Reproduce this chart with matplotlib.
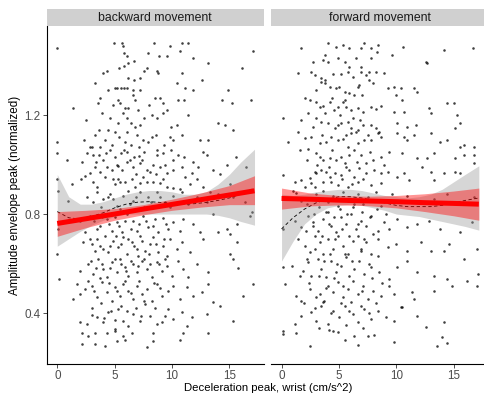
import numpy as np
import matplotlib
matplotlib.use("Agg")
import matplotlib.pyplot as plt

plt.rcParams['font.family'] = ['Liberation Sans', 'DejaVu Sans']

panels = ["backward movement", "forward movement"]

# (deceleration peak, amplitude envelope peak)
back_points = [
    (0.0, 1.47), (4.97, 1.49), (5.61, 1.49), (5.75, 1.48), (8.43, 1.49), (9.82, 1.48), (10.84, 1.49),
    (11.36, 1.49), (17.09, 1.46), (5.81, 1.45), (6.04, 1.44), (7.93, 1.45), (8.89, 1.44), (9.53, 1.44),
    (10.69, 1.46), (11.86, 1.43), (13.16, 1.41), (5.37, 1.39), (5.84, 1.40), (6.19, 1.41), (6.71, 1.42),
    (7.55, 1.38), (7.79, 1.39), (8.66, 1.38), (8.80, 1.37), (4.36, 1.38), (3.95, 1.37), (10.84, 1.37),
    (16.07, 1.39), (12.58, 1.34), (6.19, 1.35), (6.71, 1.34), (7.21, 1.35), (10.46, 1.33), (11.13, 1.31),
    (11.86, 1.30), (3.28, 1.33), (4.44, 1.30), (5.03, 1.31), (5.23, 1.31), (5.52, 1.31), (5.81, 1.31),
    (6.04, 1.31), (6.57, 1.30), (7.21, 1.30), (14.91, 1.30), (6.62, 1.28), (6.77, 1.26), (8.51, 1.27),
    (8.95, 1.27), (9.18, 1.25), (3.72, 1.27), (3.57, 1.25), (5.26, 1.26), (5.46, 1.25), (5.90, 1.23),
    (6.13, 1.23), (10.49, 1.26), (11.07, 1.26), (14.33, 1.26), (15.20, 1.25), (16.85, 1.26), (1.39, 1.23),
    (2.50, 1.18), (5.32, 1.17), (6.04, 1.19), (8.22, 1.20), (8.66, 1.19), (9.24, 1.21), (6.77, 1.15),
    (7.21, 1.16), (3.66, 1.14), (4.44, 1.14), (5.03, 1.13), (9.88, 1.15), (10.40, 1.16), (11.42, 1.20),
    (14.04, 1.17), (14.62, 1.16), (15.34, 1.14), (0.0, 1.09), (0.0, 1.045), (2.85, 1.07), (2.99, 1.07),
    (3.72, 1.07), (5.90, 1.09), (6.42, 1.08), (6.92, 1.12), (7.50, 1.10), (8.22, 1.11), (10.11, 1.10),
    (10.84, 1.12), (12.44, 1.10), (13.16, 1.10), (0.81, 1.02), (2.61, 1.045), (3.14, 1.04), (3.66, 1.04),
    (4.24, 1.045), (5.03, 1.03), (5.55, 1.045), (6.04, 1.05), (6.68, 1.03), (7.15, 1.035), (7.58, 1.05),
    (8.66, 1.04), (9.24, 1.045), (10.05, 1.02), (10.55, 1.04), (11.07, 1.03), (12.73, 1.05), (13.02, 1.04),
    (15.55, 1.03), (2.03, 0.94), (2.41, 0.955), (2.85, 0.965), (3.28, 0.99), (3.72, 0.97), (4.30, 0.99),
    (4.74, 0.98), (5.32, 0.995), (5.61, 0.98), (6.04, 1.01), (6.62, 0.99), (7.21, 1.005), (7.79, 0.98),
    (8.31, 1.0), (8.95, 0.99), (9.53, 0.965), (10.11, 0.98), (10.84, 0.99), (11.13, 0.95), (11.71, 0.965),
    (12.15, 0.94), (13.6, 0.98), (14.18, 0.96), (14.76, 1.0), (16.5, 0.99), (0.0, 0.94), (1.25, 0.92),
    (4.88, 0.94), (5.03, 0.92), (5.32, 0.94), (5.46, 0.93), (5.9, 0.93), (6.48, 0.94), (7.21, 0.925),
    (7.79, 0.93), (8.37, 0.93), (8.95, 0.925), (9.53, 0.91), (10.11, 0.905), (10.69, 0.90), (13.31, 0.89),
    (3.9, 1.21), (4.6, 1.19), (4.9, 1.24), (5.7, 1.21), (6.4, 1.17), (7.0, 1.22), (7.6, 1.19), (8.0, 1.24),
    (9.6, 1.22), (4.2, 1.10), (4.8, 1.08), (5.4, 1.11), (6.1, 1.13), (7.1, 1.07), (7.9, 1.09), (8.6, 1.12),
    (9.3, 1.08), (9.8, 1.11), (3.3, 1.12), (2.3, 1.10), (3.4, 1.01), (4.0, 1.02), (4.6, 1.06), (5.2, 1.00),
    (5.8, 1.06), (6.3, 1.02), (6.9, 0.96), (7.4, 1.02), (8.1, 0.97), (8.7, 1.06), (9.4, 1.00), (9.9, 1.06),
    (11.8, 1.01), (12.3, 0.99), (2.2, 1.01), (3.1, 0.93), (3.5, 0.91), (4.2, 0.95), (6.8, 0.91), (7.5, 0.95),
    (8.6, 0.96), (9.2, 0.94), (11.6, 0.92), (12.7, 0.91), (15.1, 0.92),
    (0.1, 0.894), (0.96, 0.854), (2.56, 0.867), (3.43, 0.888), (4.01, 0.861), (4.59, 0.881), (5.17, 0.834),
    (5.75, 0.874), (6.19, 0.894), (6.62, 0.854), (7.21, 0.888), (7.93, 0.867), (8.66, 0.89), (9.39, 0.847),
    (10.11, 0.874), (10.84, 0.888), (11.42, 0.84), (12.15, 0.867), (13.02, 0.85), (14.04, 0.88),
    (15.34, 0.87), (16.36, 0.847), (16.94, 0.81),
    (0.09, 0.74), (1.97, 0.773), (2.41, 0.726), (2.85, 0.793), (3.43, 0.74), (3.72, 0.753), (4.30, 0.78),
    (4.74, 0.733), (5.17, 0.766), (5.61, 0.726), (6.04, 0.80), (6.62, 0.773), (6.91, 0.733), (7.50, 0.793),
    (7.93, 0.746), (8.37, 0.753), (8.80, 0.726), (9.24, 0.786), (9.68, 0.74), (10.11, 0.766), (10.69, 0.733),
    (10.98, 0.78), (11.86, 0.76), (12.44, 0.726), (13.60, 0.80), (14.76, 0.74), (15.63, 0.76), (16.80, 0.793),
    (0.0, 0.638), (2.27, 0.686), (2.85, 0.699), (3.28, 0.652), (3.72, 0.672), (4.15, 0.712), (4.44, 0.645),
    (4.88, 0.692), (5.32, 0.665), (5.75, 0.706), (6.04, 0.638), (6.48, 0.686), (6.91, 0.659), (7.21, 0.712),
    (7.64, 0.652), (8.08, 0.679), (8.37, 0.706), (8.80, 0.645), (9.24, 0.672), (9.82, 0.699), (10.40, 0.659),
    (10.84, 0.686), (11.56, 0.645), (12.73, 0.699), (14.04, 0.726), (15.05, 0.719), (15.63, 0.686),
    (15.05, 0.638), (9.53, 0.632),
    (0.17, 0.537), (1.97, 0.571), (2.70, 0.598), (3.14, 0.558), (3.57, 0.618), (4.01, 0.578), (4.30, 0.544),
    (4.74, 0.605), (5.17, 0.564), (5.46, 0.618), (5.90, 0.584), (6.19, 0.551), (6.62, 0.598), (6.91, 0.564),
    (7.35, 0.611), (7.79, 0.578), (8.22, 0.544), (8.66, 0.605), (9.10, 0.571), (9.53, 0.591), (9.97, 0.551),
    (10.55, 0.611), (10.98, 0.578), (11.42, 0.544), (12.15, 0.598), (13.16, 0.564), (15.34, 0.618),
    (15.78, 0.58),
    (1.39, 0.457), (1.74, 0.517), (1.97, 0.477), (2.41, 0.497), (2.99, 0.51), (3.43, 0.463), (3.86, 0.524),
    (4.30, 0.484), (4.74, 0.45), (5.03, 0.504), (5.46, 0.47), (5.75, 0.517), (6.19, 0.49), (6.62, 0.457),
    (6.91, 0.51), (7.35, 0.477), (7.79, 0.497), (8.22, 0.45), (8.66, 0.517), (9.10, 0.47), (9.68, 0.49),
    (10.11, 0.51), (10.69, 0.457), (11.27, 0.504), (11.86, 0.47), (12.58, 0.484), (13.16, 0.517),
    (16.22, 0.47), (17.09, 0.517), (13.60, 0.443),
    (1.97, 0.362), (2.56, 0.356), (2.99, 0.392), (3.43, 0.382), (4.01, 0.362), (4.44, 0.403), (5.03, 0.335),
    (5.32, 0.416), (5.75, 0.369), (6.19, 0.349), (6.62, 0.396), (7.21, 0.369), (7.64, 0.436), (8.08, 0.389),
    (8.66, 0.356), (9.10, 0.362), (9.68, 0.416), (10.11, 0.376), (10.84, 0.403), (11.27, 0.349),
    (11.71, 0.382), (13.02, 0.396), (14.18, 0.43), (15.34, 0.369),
    (2.12, 0.32), (2.70, 0.308), (3.28, 0.32), (4.30, 0.32), (5.03, 0.329), (5.75, 0.308), (6.48, 0.319),
    (8.37, 0.32), (10.98, 0.32), (13.16, 0.318), (2.12, 0.275), (3.28, 0.275), (4.15, 0.268), (5.17, 0.288),
    (5.90, 0.292), (7.79, 0.261), (8.37, 0.288), (10.69, 0.292),
    (3.1, 0.85), (3.8, 0.83), (4.4, 0.87), (4.9, 0.86), (5.5, 0.82), (6.3, 0.84), (6.9, 0.87), (7.6, 0.83),
    (8.2, 0.85), (9.0, 0.87), (9.8, 0.83), (3.2, 0.77), (3.9, 0.79), (4.5, 0.76), (5.0, 0.79), (5.4, 0.75),
    (5.9, 0.77), (6.4, 0.74), (7.1, 0.76), (7.7, 0.77), (8.5, 0.78), (9.5, 0.76), (3.0, 0.68), (3.5, 0.70),
    (4.0, 0.66), (4.6, 0.67), (5.1, 0.71), (5.6, 0.68), (6.2, 0.70), (6.7, 0.67), (7.0, 0.63), (7.4, 0.69),
    (8.0, 0.64), (8.6, 0.68), (9.3, 0.70), (2.9, 0.61), (3.4, 0.58), (3.9, 0.60), (4.6, 0.58), (5.0, 0.62),
    (5.6, 0.60), (6.0, 0.57), (6.4, 0.61), (7.0, 0.59), (7.6, 0.62), (8.1, 0.60), (8.9, 0.60), (9.4, 0.62),
    (2.7, 0.53), (3.2, 0.49), (3.7, 0.54), (4.5, 0.52), (5.2, 0.49), (5.9, 0.53), (6.4, 0.48), (7.1, 0.53),
    (7.6, 0.45), (8.4, 0.52), (9.0, 0.50), (3.0, 0.42), (3.8, 0.44), (4.7, 0.41), (5.6, 0.43), (6.1, 0.41),
    (6.9, 0.42), (7.3, 0.39), (8.5, 0.42), (9.4, 0.39), (4.1, 0.38), (5.0, 0.37),
]

fwd_points = [
    (1.73, 1.47), (4.04, 1.493), (4.76, 1.476), (5.34, 1.483), (5.92, 1.47), (6.93, 1.47), (7.22, 1.49),
    (7.79, 1.47), (8.37, 1.483), (8.31, 1.456), (9.67, 1.443), (10.62, 1.476), (14.2, 1.463), (16.68, 1.47),
    (3.75, 1.443), (3.61, 1.423), (4.04, 1.416), (2.74, 1.416), (4.91, 1.429), (5.49, 1.416), (5.92, 1.396),
    (6.5, 1.429), (7.79, 1.429), (6.93, 1.396), (12.56, 1.416), (12.70, 1.409),
    (1.44, 1.369), (2.6, 1.375), (2.89, 1.362), (3.46, 1.349), (3.75, 1.342), (4.48, 1.366), (5.2, 1.366),
    (5.77, 1.375), (6.21, 1.355), (6.93, 1.375), (7.36, 1.362), (7.65, 1.375), (8.23, 1.375), (8.95, 1.369),
    (3.46, 1.335), (3.75, 1.328), (4.19, 1.315), (4.76, 1.308), (5.05, 1.312), (5.49, 1.295), (5.92, 1.288),
    (6.35, 1.281), (6.64, 1.315), (6.78, 1.322), (7.65, 1.342), (7.94, 1.328), (9.81, 1.315), (10.39, 1.308),
    (11.55, 1.308), (11.83, 1.295), (9.24, 1.308), (9.96, 1.281), (10.54, 1.261),
    (2.02, 1.268), (2.45, 1.261), (3.03, 1.254), (3.32, 1.234), (3.61, 1.237), (4.19, 1.254), (4.91, 1.234),
    (5.34, 1.254), (5.63, 1.234), (6.06, 1.221), (6.64, 1.227), (7.07, 1.214), (7.79, 1.234), (8.23, 1.223),
    (8.66, 1.237), (9.81, 1.214), (10.68, 1.214), (14.43, 1.247), (15.01, 1.247), (12.84, 1.227),
    (12.99, 1.207), (15.3, 1.2),
    (0.15, 1.187), (1.73, 1.18), (2.31, 1.207), (3.03, 1.187), (3.46, 1.173), (4.04, 1.167), (4.62, 1.146),
    (5.2, 1.167), (5.77, 1.173), (6.06, 1.146), (6.64, 1.14), (7.07, 1.16), (7.79, 1.16), (8.23, 1.146),
    (8.52, 1.133), (10.1, 1.167), (10.97, 1.153), (11.69, 1.16), (15.15, 1.146), (15.59, 1.167),
    (0.58, 1.093), (1.44, 1.133), (2.02, 1.106), (2.6, 1.113), (3.32, 1.089), (3.9, 1.093), (4.33, 1.113),
    (4.91, 1.099), (5.34, 1.102), (5.63, 1.12), (6.06, 1.126), (6.5, 1.133), (6.64, 1.086), (7.22, 1.099),
    (7.79, 1.099), (8.37, 1.126), (8.66, 1.113), (10.1, 1.126), (10.68, 1.113), (10.97, 1.099), (11.55, 1.12),
    (12.99, 1.126), (13.85, 1.093), (14.43, 1.099), (15.59, 1.072), (15.87, 1.079), (16.74, 1.072),
    (1.59, 1.059), (2.31, 1.062), (3.03, 1.045), (3.32, 1.032), (3.61, 1.019), (4.19, 1.025), (4.76, 1.019),
    (5.2, 1.032), (5.49, 1.005), (5.92, 1.039), (6.35, 1.059), (6.93, 1.039), (7.36, 1.005), (7.94, 1.019),
    (8.66, 1.032), (9.38, 1.052), (10.54, 1.045), (11.83, 1.025), (12.70, 1.025), (13.28, 1.045),
    (15.15, 1.025), (15.87, 1.039), (16.74, 1.039),
    (0.15, 0.958), (1.16, 0.931), (1.73, 0.938), (2.45, 0.944), (3.03, 0.965), (3.46, 0.978), (3.9, 0.971),
    (4.19, 0.951), (4.62, 0.965), (5.2, 0.958), (5.92, 0.978), (6.35, 0.951), (6.78, 0.985), (7.36, 0.965),
    (8.08, 0.978), (8.66, 0.965), (9.24, 0.971), (10.1, 0.951), (10.68, 0.965), (11.11, 0.938),
    (12.27, 0.992), (12.99, 0.971), (13.28, 0.938), (14.14, 0.965), (15.15, 0.971), (15.59, 0.965),
    (16.74, 1.005), (1.3, 0.884), (2.02, 0.911), (2.6, 0.924), (2.89, 0.911), (3.61, 0.931), (4.33, 0.931),
    (4.91, 0.918), (5.77, 0.911), (6.64, 0.931), (7.79, 0.918), (8.66, 0.924),
    (3.0, 1.30), (4.4, 1.27), (5.1, 1.20), (5.5, 1.26), (6.2, 1.19), (7.0, 1.28), (3.8, 1.21), (4.6, 1.22),
    (2.7, 1.15), (3.5, 1.12), (4.9, 1.16), (5.8, 1.07), (6.8, 1.18), (7.5, 1.12), (2.2, 1.02), (3.1, 1.00),
    (4.4, 1.06), (5.6, 0.99), (6.6, 1.01), (7.7, 1.05), (8.9, 1.00), (2.9, 0.97), (4.1, 0.99), (5.3, 0.94),
    (6.1, 0.92), (7.1, 0.94),
    (1.01, 0.894), (1.73, 0.854), (2.6, 0.861), (3.03, 0.881), (3.61, 0.894), (4.04, 0.847), (4.48, 0.874),
    (4.91, 0.834), (5.34, 0.888), (5.77, 0.854), (6.21, 0.827), (6.64, 0.881), (7.07, 0.84), (7.51, 0.867),
    (8.23, 0.888), (8.66, 0.834), (9.67, 0.881), (10.39, 0.847), (10.97, 0.874), (11.83, 0.854),
    (13.28, 0.861), (14.43, 0.881), (15.59, 0.84), (16.74, 0.867),
    (0.15, 0.739), (1.16, 0.773), (1.73, 0.746), (2.31, 0.793), (2.74, 0.766), (3.18, 0.733), (3.61, 0.78),
    (4.04, 0.807), (4.33, 0.753), (4.76, 0.726), (5.2, 0.787), (5.63, 0.76), (6.06, 0.8), (6.5, 0.739),
    (6.93, 0.773), (7.36, 0.753), (7.79, 0.793), (8.37, 0.733), (8.95, 0.766), (10.1, 0.78), (10.97, 0.746),
    (11.83, 0.76), (12.84, 0.773), (13.85, 0.739), (15.59, 0.726), (16.6, 0.766),
    (1.44, 0.699), (2.02, 0.672), (2.45, 0.645), (2.89, 0.712), (3.32, 0.686), (3.61, 0.638), (4.04, 0.699),
    (4.48, 0.659), (4.91, 0.712), (5.34, 0.672), (5.77, 0.638), (6.21, 0.692), (6.64, 0.712), (6.93, 0.659),
    (7.36, 0.686), (7.79, 0.638), (8.37, 0.699), (9.24, 0.665), (9.96, 0.679), (10.97, 0.652), (12.12, 0.686),
    (12.99, 0.652), (14.14, 0.652), (14.57, 0.679), (15.87, 0.618), (17.03, 0.659),
    (0.15, 0.584), (0.29, 0.517), (0.87, 0.591), (1.88, 0.571), (2.31, 0.605), (2.6, 0.551), (3.18, 0.618),
    (3.46, 0.578), (3.9, 0.544), (4.33, 0.611), (4.76, 0.564), (5.2, 0.591), (5.63, 0.625), (5.92, 0.551),
    (6.35, 0.578), (6.78, 0.611), (7.22, 0.557), (7.79, 0.584), (8.52, 0.564), (9.38, 0.537), (10.1, 0.584),
    (10.97, 0.611), (11.83, 0.564), (13.28, 0.551), (14.43, 0.537), (17.17, 0.557),
    (1.3, 0.47), (1.73, 0.45), (2.45, 0.497), (3.03, 0.463), (3.32, 0.477), (3.61, 0.443), (4.04, 0.51),
    (4.48, 0.484), (4.91, 0.524), (5.34, 0.463), (5.77, 0.497), (6.06, 0.443), (6.64, 0.477), (7.07, 0.51),
    (7.51, 0.457), (7.94, 0.49), (8.66, 0.47), (9.38, 0.51), (9.81, 0.477), (10.54, 0.423), (11.4, 0.484),
    (11.55, 0.457), (13.28, 0.49), (14.86, 0.51), (16.16, 0.531), (17.03, 0.51),
    (1.16, 0.356), (1.73, 0.389), (2.6, 0.403), (3.03, 0.369), (3.46, 0.43), (4.04, 0.356), (4.48, 0.409),
    (5.05, 0.382), (5.49, 0.43), (6.21, 0.396), (6.64, 0.362), (7.22, 0.416), (7.79, 0.376), (8.37, 0.409),
    (9.1, 0.382), (9.81, 0.369), (10.39, 0.423), (11.83, 0.389), (12.56, 0.342), (14.14, 0.362),
    (0.09, 0.329), (0.09, 0.315), (1.3, 0.319), (4.48, 0.329), (4.91, 0.325), (5.49, 0.292), (6.35, 0.308),
    (6.64, 0.271), (7.51, 0.308), (9.81, 0.284), (13.99, 0.302), (13.57, 0.268), (14.43, 0.279), (2.51, 0.268),
    (2.2, 0.84), (2.8, 0.80), (3.3, 0.83), (3.9, 0.81), (4.6, 0.79), (5.1, 0.82), (5.7, 0.80), (6.3, 0.84),
    (7.0, 0.81), (7.7, 0.79), (8.3, 0.82), (9.1, 0.80), (2.1, 0.73), (2.7, 0.75), (3.5, 0.71), (4.1, 0.76),
    (4.7, 0.70), (5.3, 0.74), (5.9, 0.71), (6.7, 0.76), (7.2, 0.70), (8.0, 0.72), (9.4, 0.74), (2.2, 0.62),
    (2.9, 0.66), (3.7, 0.61), (4.2, 0.64), (4.8, 0.60), (5.5, 0.64), (6.1, 0.61), (6.9, 0.65), (7.6, 0.60),
    (8.4, 0.63), (1.6, 0.55), (2.4, 0.52), (3.3, 0.55), (3.9, 0.50), (4.6, 0.54), (5.4, 0.51), (6.2, 0.53),
    (7.0, 0.49), (7.9, 0.54), (8.8, 0.52), (2.0, 0.44), (2.9, 0.42), (3.7, 0.45), (4.3, 0.40), (5.2, 0.44),
    (5.9, 0.41), (6.9, 0.43), (7.6, 0.40), (8.2, 0.44), (3.3, 0.34), (4.1, 0.33), (5.6, 0.35), (7.1, 0.34),
    (8.1, 0.31),
]

# loess smooth (dashed) and its grey confidence band
smooth_x = [0, 1, 2, 3, 4, 5, 6, 7, 8, 9, 10, 11, 12, 13, 14, 15, 16, 17.2]
back_smooth = [0.81, 0.785, 0.78, 0.79, 0.805, 0.825, 0.84, 0.848, 0.85, 0.847, 0.843, 0.84, 0.842,
               0.847, 0.855, 0.865, 0.88, 0.905]
back_smooth_hi = [0.96, 0.87, 0.84, 0.84, 0.85, 0.865, 0.88, 0.89, 0.895, 0.895, 0.89, 0.88, 0.88,
                  0.89, 0.92, 0.96, 1.01, 1.062]
back_smooth_lo = [0.67, 0.70, 0.73, 0.755, 0.775, 0.79, 0.80, 0.80, 0.80, 0.80, 0.80, 0.80, 0.80,
                  0.80, 0.795, 0.785, 0.77, 0.755]
fwd_smooth = [0.74, 0.785, 0.82, 0.845, 0.86, 0.87, 0.87, 0.865, 0.855, 0.845, 0.835, 0.83, 0.83,
              0.83, 0.835, 0.845, 0.855, 0.865]
fwd_smooth_hi = [0.88, 0.875, 0.88, 0.89, 0.895, 0.9, 0.9, 0.895, 0.885, 0.875, 0.87, 0.865, 0.87,
                 0.88, 0.9, 0.93, 0.96, 0.995]
fwd_smooth_lo = [0.61, 0.69, 0.76, 0.80, 0.825, 0.835, 0.84, 0.835, 0.825, 0.815, 0.80, 0.795, 0.79,
                 0.78, 0.77, 0.76, 0.75, 0.735]

# linear fit (red) and its confidence band
lin_x = [0, 2.5, 5, 7.5, 10, 12.5, 15, 17.2]
back_lin = [0.762, 0.781, 0.800, 0.820, 0.839, 0.858, 0.877, 0.894]
back_lin_hi = [0.81, 0.815, 0.822, 0.838, 0.86, 0.885, 0.915, 0.955]
back_lin_lo = [0.71, 0.745, 0.775, 0.797, 0.815, 0.828, 0.838, 0.838]
fwd_lin = [0.863, 0.860, 0.856, 0.853, 0.850, 0.846, 0.843, 0.840]
fwd_lin_hi = [0.905, 0.885, 0.875, 0.872, 0.875, 0.882, 0.893, 0.905]
fwd_lin_lo = [0.82, 0.833, 0.837, 0.834, 0.825, 0.81, 0.793, 0.775]

x_ticks = [0, 5, 10, 15]
y_ticks = [0.4, 0.8, 1.2]

panel_data = [
    (back_points, back_smooth, back_smooth_lo, back_smooth_hi, back_lin, back_lin_lo, back_lin_hi),
    (fwd_points, fwd_smooth, fwd_smooth_lo, fwd_smooth_hi, fwd_lin, fwd_lin_lo, fwd_lin_hi),
]

fig = plt.figure(figsize=(4.85, 3.96), dpi=100)
W, H = 485, 396
lefts = [46.7, 271]
pw = 217
bottom_px, top_px, strip_top = 364, 26, 9

for i, (title, data) in enumerate(zip(panels, panel_data)):
    pts, sm, sm_lo, sm_hi, lin, lin_lo, lin_hi = data
    ax = fig.add_axes([lefts[i] / W, 1 - bottom_px / H, pw / W, (bottom_px - top_px) / H])
    px, py = np.array(pts).T
    ax.scatter(px, py, s=3.4, c='black', alpha=0.75, linewidths=0, zorder=1)
    ax.fill_between(smooth_x, sm_lo, sm_hi, color='#999999', alpha=0.4, lw=0, zorder=2)
    ax.plot(smooth_x, sm, color='black', lw=0.6, dashes=(4, 3), zorder=3)
    ax.fill_between(lin_x, lin_lo, lin_hi, color='red', alpha=0.42, lw=0, zorder=4)
    ax.plot(lin_x, lin, color='red', lw=3.6, solid_capstyle='butt', zorder=5)

    ax.set_xlim(-0.92, 18.0)
    ax.set_ylim(0.194, 1.56)
    ax.set_xticks(x_ticks)
    ax.set_yticks(y_ticks)
    for s in ['top', 'right']:
        ax.spines[s].set_visible(False)
    ax.spines['bottom'].set_linewidth(0.8)
    ax.spines['left'].set_linewidth(0.8)
    ax.tick_params(length=3, width=0.6, color='#333333', labelcolor='#4d4d4d',
                   labelsize=8.4, pad=1.5)
    if i == 1:
        ax.spines['left'].set_visible(False)
        ax.tick_params(axis='y', left=False, labelleft=False)

    # facet strip
    sax = fig.add_axes([lefts[i] / W, 1 - top_px / H, pw / W, (top_px - strip_top) / H])
    sax.set_facecolor('#d0d0d0')
    sax.set_xticks([])
    sax.set_yticks([])
    for s in sax.spines.values():
        s.set_visible(False)
    sax.text(0.5, 0.45, title, ha='center', va='center', fontsize=8.8, color='#1a1a1a',
             transform=sax.transAxes)

fig.text(268 / W, 1 - 388 / H, "Deceleration peak, wrist (cm/s^2)",
         ha='center', va='center', fontsize=8.2)
fig.text(15 / W, 1 - 195 / H, "Amplitude envelope peak (normalized)",
         ha='center', va='center', rotation=90, fontsize=8.4)

fig.savefig("out.png", dpi=100)
